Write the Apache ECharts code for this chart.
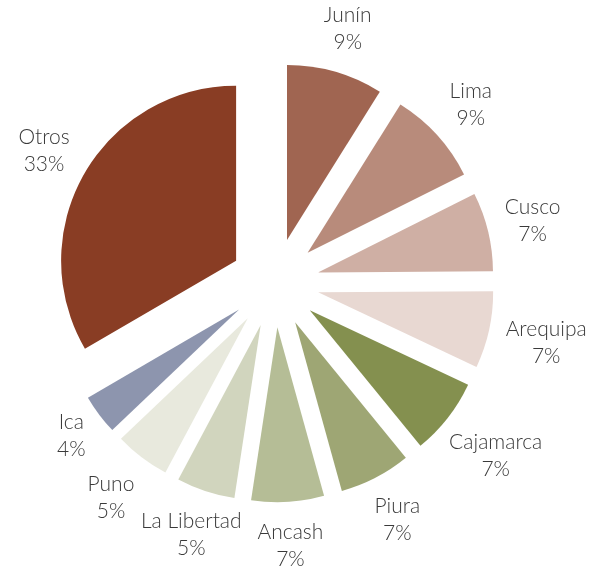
<!DOCTYPE html>
<html>
<head>
<meta charset="utf-8">
<script src="https://cdn.jsdelivr.net/npm/echarts@6/dist/echarts.min.js"></script>
<style>
  html, body { margin: 0; padding: 0; background: #ffffff; }
  #chart { width: 591px; height: 573px; }
</style>
</head>
<body>
<div id="chart"></div>
<script>
// Regional shares (%), clockwise from 12 o'clock
const regions = ['Junín', 'Lima', 'Cusco', 'Arequipa', 'Cajamarca', 'Piura', 'Ancash', 'La Libertad', 'Puno', 'Ica', 'Otros'];
const shares = [8.9, 8.7, 7.3, 7.1, 7.1, 6.6, 6.7, 5.4, 5.1, 3.7, 33.4];
const sliceColors = ['#a06551', '#b88b7b', '#cfafa4', '#e8d8d2', '#84904f', '#9ea674', '#b5bd96', '#d1d5be', '#e8e9dd', '#8d95ae', '#893d24'];

// Pie geometry
const CX = 274.7, CY = 282.8, RADIUS = 175, EXPLODE = 44.5, LABEL_GAP = 17;

const total = shares.reduce((s, v) => s + v, 0);
const cumulative = [];
shares.reduce((acc, v, i) => { cumulative[i] = acc; return acc + v; }, 0);

const labelFont = {
  fontFamily: 'Lato',
  fontWeight: 300,
  fontSize: 21,
  lineHeight: 27,
  color: '#3a3a3a'
};

const chart = echarts.init(document.getElementById('chart'), null, { renderer: 'canvas' });

chart.setOption({
  animation: false,
  backgroundColor: '#ffffff',
  series: [
    {
      // exploded slices
      type: 'pie',
      center: [CX, CY],
      radius: RADIUS,
      startAngle: 90,
      clockwise: true,
      selectedMode: 'multiple',
      selectedOffset: EXPLODE,
      silent: true,
      emphasis: { disabled: true },
      itemStyle: { borderWidth: 0 },
      label: { show: false },
      labelLine: { show: false },
      data: regions.map((name, i) => ({
        name: name,
        value: shares[i],
        selected: true,
        itemStyle: { color: sliceColors[i] }
      }))
    },
    {
      // invisible ring carrying the data labels outside each exploded slice
      type: 'pie',
      center: [CX, CY],
      radius: RADIUS + EXPLODE,
      startAngle: 90,
      clockwise: true,
      silent: true,
      avoidLabelOverlap: false,
      emphasis: { disabled: true },
      itemStyle: { color: 'rgba(0,0,0,0)', borderWidth: 0 },
      label: Object.assign({
        show: true,
        position: 'outside',
        alignTo: 'none',
        align: 'center',
        formatter: p => p.name + '\n' + Math.round(p.percent) + '%'
      }, labelFont),
      labelLine: { show: false },
      // push each label out along its slice bisector until its box clears the arc
      labelLayout: function (p) {
        const i = p.dataIndex;
        const mid = ((cumulative[i] + shares[i] / 2) / total) * 2 * Math.PI;
        const dx = Math.sin(mid), dy = -Math.cos(mid);
        const a = p.labelRect.width / 2, b = p.labelRect.height / 2;
        const t = Math.min(Math.abs(dx) > 1e-6 ? a / Math.abs(dx) : Infinity,
                           Math.abs(dy) > 1e-6 ? b / Math.abs(dy) : Infinity);
        const dist = EXPLODE + RADIUS + LABEL_GAP + t;
        return { x: CX + dx * dist, y: CY + dy * dist, align: 'center', verticalAlign: 'middle' };
      },
      data: regions.map((name, i) => ({ name: name, value: shares[i] }))
    }
  ]
});
</script>
</body>
</html>
